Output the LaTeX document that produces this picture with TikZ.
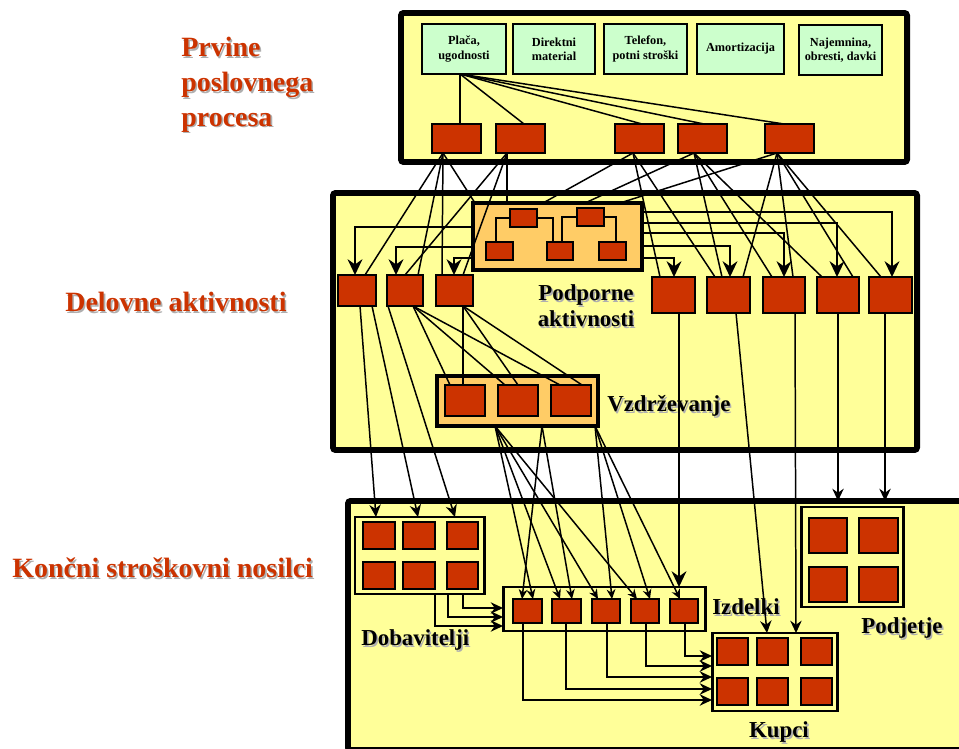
\documentclass[tikz,border=0pt]{standalone}
\usepackage{fontspec}
\setmainfont{Liberation Serif}
\usetikzlibrary{arrows.meta,calc}
\definecolor{paleyellow}{RGB}{255,255,153}
\definecolor{palegreen}{RGB}{204,255,204}
\definecolor{brick}{RGB}{204,51,0}
\definecolor{apricot}{RGB}{255,204,102}
\definecolor{shadowgray}{RGB}{175,175,175}
% box given by its top-left and bottom-right corners (pixel units)
\newcommand{\bx}[7]{\node[#2,anchor=north west,minimum width={(#5-#3)*0.02cm},minimum height={(#6-#4)*0.02cm}] (#1) at (#3,#4) {#7};}
% text with a soft drop shadow
\newcommand{\shadowed}[5]{\node[#2,anchor=#4,text=shadowgray] (#1s) at ($#3+(1.6,1.6)$) {#5};\node[#2,anchor=#4] (#1) at #3 {#5};}
\begin{document}
\begin{tikzpicture}[x=0.02cm,y=-0.02cm,
  frame/.style={draw=black,fill=paleyellow,line width=3.4pt,rounded corners=1.5pt,inner sep=0pt,outer sep=0pt},
  group/.style={draw=black,fill=paleyellow,line width=1.7pt,inner sep=0pt,outer sep=0pt},
  support/.style={draw=black,fill=apricot,line width=1.9pt,inner sep=0pt,outer sep=0pt},
  cost/.style={draw=black,fill=palegreen,line width=0.9pt,inner sep=0pt,outer sep=0pt,align=center,font=\bfseries\fontsize{7}{8}\selectfont},
  act/.style={draw=black,fill=brick,line width=0.8pt,inner sep=0pt,outer sep=0pt},
  link/.style={line width=0.85pt},
  big/.style={link,-{Stealth[length=9pt,width=8.5pt,inset=3pt]}},
  mid/.style={link,-{Stealth[length=7pt,width=6.5pt,inset=2.3pt]}},
  small/.style={link,-{Stealth[length=5.5pt,width=5pt,inset=1.8pt]}},
  title/.style={inner sep=0pt,text=brick,align=left,font=\bfseries\fontsize{15.9}{19.8}\selectfont},
  tag/.style={inner sep=0pt,align=center,font=\bfseries\fontsize{13}{14.7}\selectfont},
]
\useasboundingbox (0,0) rectangle (959,749);
\clip (0,0) rectangle (959,749);

% ---- level frames
\bx{top}{frame}{401}{13}{907}{162}{}
\bx{midf}{frame}{333}{193}{917}{450}{}
\bx{bot}{frame}{348}{501}{975}{750}{}

% ---- level titles
\shadowed{lblA}{title}{(181,37)}{north west}{Prvine\\poslovnega\\procesa}
\shadowed{lblB}{title}{(65,302)}{west}{Delovne aktivnosti}
\shadowed{lblC}{title}{(12,568)}{west}{Končni stroškovni nosilci}

% ---- cost elements
\bx{g1}{cost}{422}{24}{506}{74}{Plača,\\ugodnosti}
\bx{g2}{cost}{513}{24}{595}{74}{Direktni\\material}
\bx{g3}{cost}{604}{24}{687}{74}{Telefon,\\potni stroški}
\bx{g4}{cost}{697}{24}{784}{74}{Amortizacija}
\bx{g5}{cost}{799}{25}{882}{75}{Najemnina,\\obresti, davki}

\bx{t1}{act}{432}{124}{481}{153}{}
\bx{t2}{act}{496}{124}{545}{153}{}
\bx{t3}{act}{615}{124}{664}{153}{}
\bx{t4}{act}{678}{124}{727}{153}{}
\bx{t5}{act}{765}{124}{814}{153}{}

% ---- support activities (org chart)
\bx{podp}{support}{473}{203}{642}{270}{}
\bx{oa}{act}{510}{209}{537}{227}{}
\bx{ob}{act}{577}{208}{604}{226}{}
\bx{oc}{act}{486}{242}{513}{260}{}
\bx{od}{act}{547}{242}{573}{260}{}
\bx{oe}{act}{599}{242}{626}{260}{}
\draw[link] (oa.west) -| ($(oc.north west)+(10,0)$);
\draw[link] (oa.east) -| ($(od.north west)+(6,0)$);
\draw[link] (ob.west) -| ($(od.north west)+(15,0)$);
\draw[link] (ob.east) -| ($(oe.north west)+(17,0)$);
\shadowed{lblP}{tag}{(586,306)}{center}{Podporne\\aktivnosti}

% ---- working activities
\bx{l1}{act}{338}{275}{376}{306}{}
\bx{l2}{act}{387}{275}{423}{306}{}
\bx{l3}{act}{436}{275}{473}{306}{}
\bx{r1}{act}{652}{277}{695}{313}{}
\bx{r2}{act}{707}{277}{750}{313}{}
\bx{r3}{act}{763}{277}{805}{313}{}
\bx{r4}{act}{817}{277}{859}{313}{}
\bx{r5}{act}{869}{277}{912}{313}{}

% ---- maintenance
\bx{vz}{support}{437}{376}{598}{426}{}
\bx{v1}{act}{445}{385}{485}{416}{}
\bx{v2}{act}{498}{385}{538}{416}{}
\bx{v3}{act}{551}{385}{591}{416}{}
\shadowed{lblV}{tag}{(607,406)}{west}{Vzdrževanje}

% ---- final cost objects
\bx{dob}{group}{355}{517}{484}{594}{}
\foreach \c/\xa/\xb in {1/363/395,2/403/435,3/447/478}
  \foreach \r/\ya/\yb in {1/522/549,2/562/589}
    {\bx{d\r\c}{act}{\xa}{\ya}{\xb}{\yb}{}}
\shadowed{lblD}{tag}{(361,640)}{west}{Dobavitelji}

\bx{izd}{group}{503}{587}{705}{631}{}
\bx{p1}{act}{513}{599}{542}{623}{}
\bx{p2}{act}{552}{599}{581}{623}{}
\bx{p3}{act}{592}{599}{620}{623}{}
\bx{p4}{act}{631}{599}{659}{623}{}
\bx{p5}{act}{670}{599}{698}{623}{}
\shadowed{lblI}{tag}{(712,607)}{west}{Izdelki}

\bx{kup}{group}{712}{633}{837}{711}{}
\foreach \c/\xa/\xb in {1/717/748,2/757/788,3/801/832}
  \foreach \r/\ya/\yb in {1/638/665,2/678/705}
    {\bx{k\r\c}{act}{\xa}{\ya}{\xb}{\yb}{}}
\shadowed{lblK}{tag}{(779,732)}{center}{Kupci}

\bx{podj}{group}{801}{507}{903}{607}{}
\foreach \c/\xa/\xb in {1/809/847,2/859/898}
  \foreach \r/\ya/\yb in {1/518/553,2/567/602}
    {\bx{j\r\c}{act}{\xa}{\ya}{\xb}{\yb}{}}
\shadowed{lblJ}{tag}{(902,628)}{center}{Podjetje}

% ---- cost element to first activities
\foreach \n/\d in {t1/28,t2/28,t3/27,t4/26,t5/19}
  \draw[link] ($(g1.south west)+(38,0)$) -- ($(\n.north west)+(\d,0)$);

% ---- first activities to working and support activities
\foreach \n/\d in {l1/27,l2/31,l3/6,podp/2}
  \draw[link] ($(t1.south west)+(11,0)$) -- ($(\n.north west)+(\d,0)$);
\foreach \n/\d in {l2/18,l3/27,podp/34}
  \draw[link] ($(t2.south west)+(11,0)$) -- ($(\n.north west)+(\d,0)$);
\foreach \n/\d in {podp/70,r1/8,r2/8}
  \draw[link] ($(t3.south west)+(18,0)$) -- ($(\n.north west)+(\d,0)$);
\foreach \n/\d in {podp/112,r2/15,r3/9,r4/5}
  \draw[link] ($(t4.south west)+(16,0)$) -- ($(\n.north west)+(\d,0)$);
\foreach \n/\d in {podp/147,r2/36,r3/30,r4/36,r5/12}
  \draw[link] ($(t5.south west)+(12,0)$) -- ($(\n.north west)+(\d,0)$);

% ---- support activities feed all working activities
\draw[big] ($(podp.north west)+(0,24)$) -| ($(l1.north west)+(17,0)$);
\draw[big] ($(podp.north west)+(0,44)$) -| ($(l2.north west)+(9,0)$);
\draw[big] ($(podp.north west)+(0,55)$) -| ($(l3.north west)+(18,0)$);
\draw[big] ($(podp.north east)+(0,9)$)  -| ($(r5.north west)+(23,0)$);
\draw[big] ($(podp.north east)+(0,20)$) -| ($(r4.north west)+(20,0)$);
\draw[big] ($(podp.north east)+(0,30)$) -| ($(r3.north west)+(21,0)$);
\draw[big] ($(podp.north east)+(0,43)$) -| ($(r2.north west)+(23,0)$);
\draw[big] ($(podp.north east)+(0,55)$) -| ($(r1.north west)+(22,0)$);

% ---- working activities to maintenance
\foreach \n/\d in {v1/5,v2/7,v3/9}
  \draw[link] ($(l2.south west)+(26,0)$) -- ($(\n.north west)+(\d,0)$);
\foreach \n/\d in {v1/18,v2/20,v3/31}
  \draw[link] ($(l3.south west)+(27,0)$) -- ($(\n.north west)+(\d,0)$);

% ---- working activities to suppliers
\draw[mid] ($(l1.south west)+(22,0)$) -- ($(dob.north west)+(21,0)$);
\draw[mid] ($(l1.south west)+(34,0)$) -- ($(dob.north west)+(63,0)$);
\draw[mid] ($(l2.south west)+(1,0)$)  -- ($(dob.north west)+(100,0)$);

% ---- maintenance to products
\foreach \n/\d in {p1/20,p2/8,p3/6,p4/6}
  \draw[small] ($(vz.south west)+(58,0)$) -- ($(\n.north west)+(\d,0)$);
\foreach \n/\d in {p1/9,p2/20}
  \draw[small] ($(vz.south west)+(105,0)$) -- ($(\n.north west)+(\d,0)$);
\foreach \n/\d in {p3/20,p4/19,p5/10}
  \draw[small] ($(vz.south west)+(158,0)$) -- ($(\n.north west)+(\d,0)$);

% ---- right-hand working activities to final objects
\coordinate (r1out) at ($(r1.south west)+(27,0)$);
\coordinate (r4out) at ($(r4.south west)+(21,0)$);
\coordinate (r5out) at ($(r5.south west)+(16,0)$);
\draw[big] (r1out) -- (r1out |- izd.north);
\draw[mid] ($(r2.south west)+(29,0)$) -- ($(kup.north west)+(55,0)$);
\draw[mid] ($(r3.south west)+(32,0)$) -- ($(kup.north west)+(84,0)$);
\draw[mid] (r4out) -- (r4out |- bot.north);
\draw[mid] (r5out) -- (r5out |- bot.north);

% ---- suppliers to products
\draw[mid] ($(dob.south west)+(80,0)$)  |- ($(izd.north west)+(0,39)$);
\draw[mid] ($(dob.south west)+(93,0)$)  |- ($(izd.north west)+(0,30)$);
\draw[mid] ($(dob.south west)+(108,0)$) |- ($(izd.north west)+(0,21)$);

% ---- products to customers
\draw[mid] ($(p1.south west)+(10,0)$) |- ($(kup.north west)+(0,67)$);
\draw[mid] ($(p2.south west)+(14,0)$) |- ($(kup.north west)+(0,56)$);
\draw[mid] ($(p3.south west)+(15,0)$) |- ($(kup.north west)+(0,44)$);
\draw[mid] ($(p4.south west)+(15,0)$) |- ($(kup.north west)+(0,33)$);
\draw[mid] ($(p5.south west)+(15,0)$) |- ($(kup.north west)+(0,23)$);
\end{tikzpicture}
\end{document}
